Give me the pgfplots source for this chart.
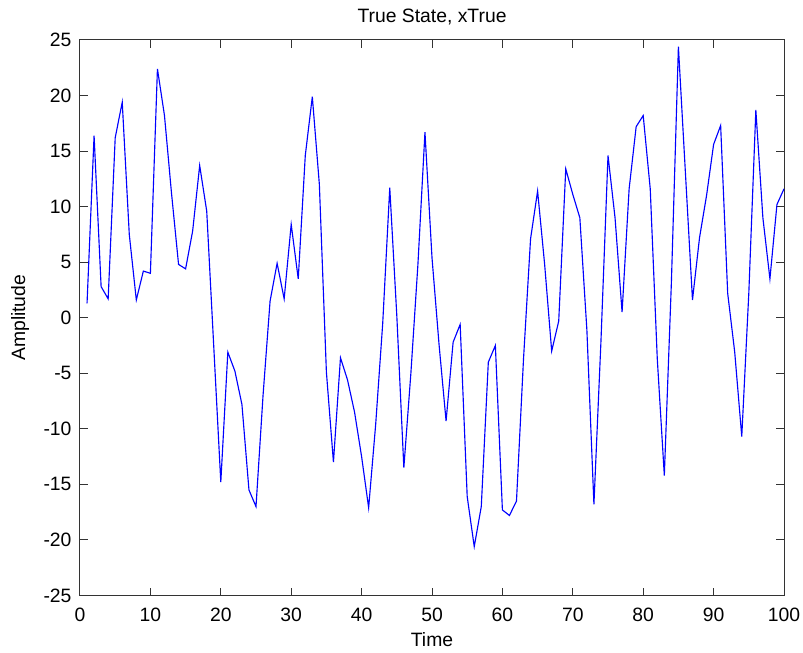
\documentclass[border=0pt]{standalone}
\usepackage{fontspec}
\setmainfont{Liberation Sans}
\usepackage{pgfplots}
\pgfplotsset{compat=1.18}

\begin{document}
\begin{tikzpicture}
\begin{axis}[
    scale only axis,
    width=528pt,
    height=416.6pt,
    xmin=0, xmax=100,
    ymin=-25, ymax=25,
    xtick={0,10,...,100},
    ytick={-25,-20,...,25},
    yticklabels={-25,-20,-15,-10,-5,0,5,10,15,20,25},
    tick align=inside,
    major tick length=5.8pt,
    axis line style={black!80, line width=0.75pt},
    every tick/.style={black!80, line width=0.75pt},
    font=\fontsize{14.5}{17}\selectfont,
    /pgf/number format/assume math mode=true,
    xticklabel style={anchor=base, yshift=-19.3pt},
    yticklabel style={anchor=east, inner sep=0pt, xshift=-6.2pt},
    title={True State, xTrue},
    title style={at={(axis description cs:0.5,1.0171)}, anchor=base, inner sep=0pt},
    xlabel={Time},
    xlabel style={at={(axis description cs:0.5,-0.0917)}, anchor=base, inner sep=0pt},
    ylabel={Amplitude},
    ylabel style={at={(axis description cs:-0.0781,0.5)}, anchor=base, inner sep=0pt},
]
\addplot[color={rgb,255:red,0;green,0;blue,255}, line width=0.85pt, mark=none] coordinates {
(1,1.3) (2,16.4) (3,2.8) (4,1.7) (5,16.2) (6,19.4) (7,7.5) (8,1.6) (9,4.2) (10,4.0)
(11,22.4) (12,18.2) (13,11.2) (14,4.8) (15,4.4) (16,7.8) (17,13.7) (18,9.6) (19,-2.6) (20,-14.8)
(21,-3.1) (22,-4.8) (23,-7.8) (24,-15.5) (25,-17) (26,-7) (27,1.5) (28,4.9) (29,1.7) (30,8.4)
(31,3.5) (32,14.6) (33,19.9) (34,12) (35,-4.9) (36,-13) (37,-3.6) (38,-5.6) (39,-8.5) (40,-12.5)
(41,-17.1) (42,-9.6) (43,-0.5) (44,11.7) (45,0.2) (46,-13.5) (47,-5) (48,4.8) (49,16.7) (50,5.4)
(51,-2.4) (52,-9.3) (53,-2.2) (54,-0.6) (55,-16.1) (56,-20.6) (57,-17) (58,-4) (59,-2.5) (60,-17.3)
(61,-17.8) (62,-16.5) (63,-3.7) (64,7.1) (65,11.4) (66,4.8) (67,-3) (68,-0.3) (69,13.4) (70,11.1)
(71,9) (72,-1.1) (73,-16.8) (74,-2.1) (75,14.6) (76,9) (77,0.5) (78,11.6) (79,17.2) (80,18.2)
(81,11.6) (82,-3.7) (83,-14.2) (84,3.1) (85,24.4) (86,13) (87,1.6) (88,7.2) (89,11) (90,15.6)
(91,17.3) (92,2.2) (93,-3.1) (94,-10.7) (95,2.2) (96,18.7) (97,9) (98,3.5) (99,10.2) (100,11.6)
};
\end{axis}
% fix the page to the reference's margins round the axis
\pgfresetboundingbox
\path ([shift={(-60pt,-43.1pt)}]current axis.south west) rectangle ([shift={(14.25pt,30pt)}]current axis.north east);
\end{tikzpicture}
\end{document}
